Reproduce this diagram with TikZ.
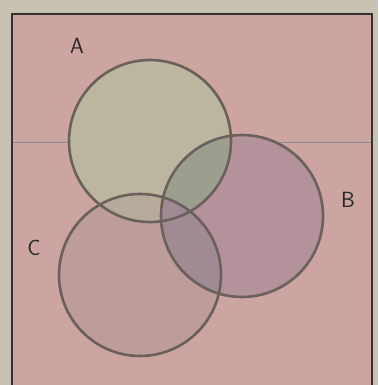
\documentclass[tikz,border=0pt]{standalone}
\usetikzlibrary{calc}
\definecolor{paper}{HTML}{C9C1B2}
\definecolor{sheet}{HTML}{CCA5A0}
\definecolor{colA}{HTML}{BCB5A0}
\definecolor{colB}{HTML}{B3929B}
\definecolor{colC}{HTML}{BD9C99}
\definecolor{colAB}{HTML}{9C9E8E}
\definecolor{colBC}{HTML}{A08A93}
\definecolor{colAC}{HTML}{B6AB9B}
\definecolor{ink}{HTML}{6B605C}
\begin{document}
\begin{tikzpicture}[x=1pt,y=-1pt,inner sep=0pt,
  venn/.style={circle,draw=ink,line width=2.6pt,minimum size=162pt},
  lbl/.style={font=\sffamily\fontsize{22}{22}\selectfont,text=black!85}]
\def\r{81}
\fill[paper] (0,0) rectangle (378,385);
\useasboundingbox (0,0) rectangle (378,385);
\fill[sheet] (12,14) rectangle (372,385);
\draw[black!45,line width=0.6pt] (12,142) -- (372,142);
% sets
\coordinate (ca) at (150,141);
\coordinate (cb) at (242,216);
\coordinate (cc) at (140,275);
\fill[colA] (ca) circle[radius=\r];
\fill[colB] (cb) circle[radius=\r];
\fill[colC] (cc) circle[radius=\r];
\begin{scope}
\clip (ca) circle[radius=\r];
\fill[colAC] (cc) circle[radius=\r];
\fill[colAB] (cb) circle[radius=\r];
\end{scope}
\begin{scope}
\clip (cb) circle[radius=\r];
\fill[colBC] (cc) circle[radius=\r];
\end{scope}
\node[venn] (a) at (ca) {};
\node[venn] (b) at (cb) {};
\node[venn] (c) at (cc) {};
\node[lbl] (la) at (77,46) {A};
\node[lbl] (lb) at (348,200) {B};
\node[lbl] (lc) at (34,248) {C};
\draw[black!80,line width=2.4pt] (12,385) -- (12,14) -- (372,14) -- (372,385);
\end{tikzpicture}
\end{document}
